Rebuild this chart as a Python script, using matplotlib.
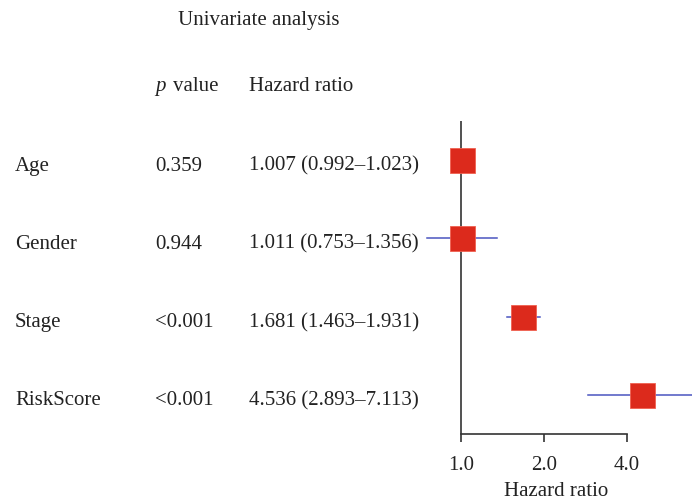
import matplotlib.pyplot as plt
import matplotlib.transforms as mtransforms

plt.rcParams['font.family'] = ['Liberation Serif', 'DejaVu Serif']

variables = ['Age', 'Gender', 'Stage', 'RiskScore']
p_labels = ['0.359', '0.944', '<0.001', '<0.001']
hr = [1.007, 1.011, 1.681, 4.536]
ci_low = [0.992, 0.753, 1.463, 2.893]
ci_high = [1.023, 1.356, 1.931, 7.113]
xticks = [1.0, 2.0, 4.0]

W, H = 692, 502
fig = plt.figure(figsize=(W / 100, H / 100), dpi=100)

# plot panel (pixel box converted to figure fraction)
px_left, px_right, px_top, px_bottom = 420, 692, 122, 435
ax = fig.add_axes([px_left / W, 1 - px_bottom / H,
                   (px_right - px_left) / W, (px_bottom - px_top) / H])
ax.set_xscale('log', base=2)
ax.set_xlim(0.71, 6.88)
rows = list(range(1, len(variables) + 1))
ax.set_ylim(4.5, 0.5)

ax.axvline(1.0, color='#333333', lw=1.2, zorder=1)
for y, lo, hi, h in zip(rows, ci_low, ci_high, hr):
    ax.plot([lo, hi], [y, y], color='#4a55c0', lw=1.1, zorder=2)
    ax.plot([h], [y], marker='s', ms=18, color='#dc2a1c',
            mec='#f06050', mew=0.6, zorder=3)

for s in ['left', 'right', 'top']:
    ax.spines[s].set_visible(False)
ax.spines['bottom'].set_bounds(1.0, 4.0)
ax.spines['bottom'].set_linewidth(1.2)
ax.spines['bottom'].set_color('#333333')
ax.set_yticks([])
ax.set_xticks(xticks)
ax.set_xticklabels([f'{t:.1f}' for t in xticks])
ax.xaxis.set_minor_locator(plt.NullLocator())
fs = 15
tc = '#222222'
ax.tick_params(axis='x', direction='out', length=6, width=1.2,
               color='#333333', labelsize=fs, labelcolor=tc, pad=9)
ax.set_xlabel('Hazard ratio', fontsize=fs, color=tc, labelpad=5)

# table text rows: baselines sit a few pixels below each plot row
trans = mtransforms.blended_transform_factory(fig.transFigure, ax.transData)
trans = mtransforms.offset_copy(trans, fig=fig, y=-9.5, units='dots')
for y, name, p, h, lo, hi in zip(rows, variables, p_labels, hr, ci_low, ci_high):
    ax.text(15 / W, y, name, transform=trans, fontsize=fs, color=tc,
            va='baseline', ha='left', clip_on=False)
    ax.text(155 / W, y, p, transform=trans, fontsize=fs, color=tc,
            va='baseline', ha='left', clip_on=False)
    ax.text(249 / W, y, f'{h:.3f} ({lo:.3f}\u2013{hi:.3f})', transform=trans,
            fontsize=fs, color=tc, va='baseline', ha='left', clip_on=False)

fig.text(178 / W, 1 - 25 / H, 'Univariate analysis', fontsize=fs, color=tc,
         va='baseline', ha='left')
fig.text(155 / W, 1 - 91 / H, 'p', fontsize=fs, color=tc, style='italic',
         va='baseline', ha='left')
fig.text(173 / W, 1 - 91 / H, 'value', fontsize=fs, color=tc,
         va='baseline', ha='left')
fig.text(249 / W, 1 - 91 / H, 'Hazard ratio', fontsize=fs, color=tc,
         va='baseline', ha='left')

fig.savefig('out.png', dpi=100)
